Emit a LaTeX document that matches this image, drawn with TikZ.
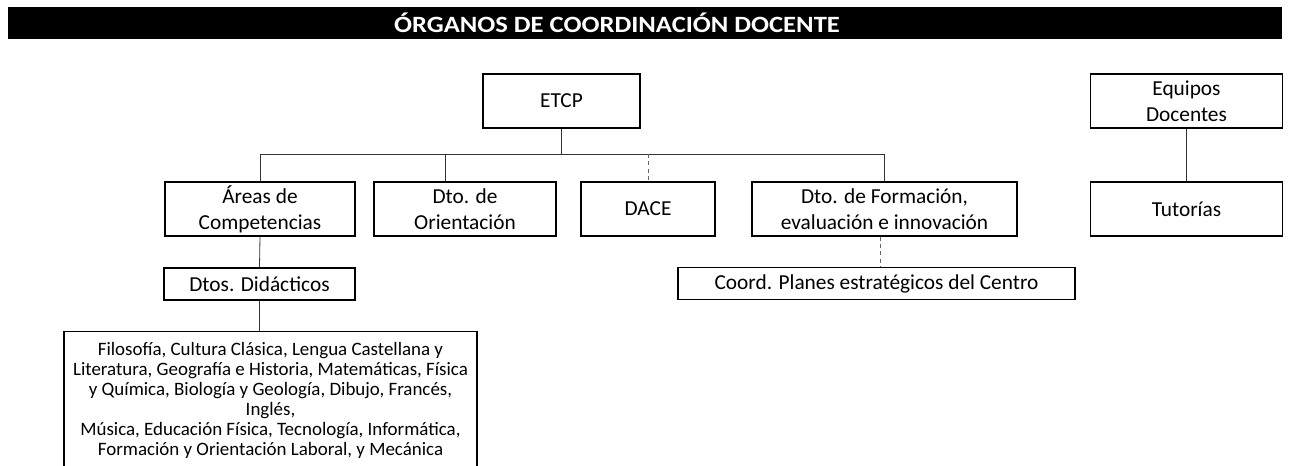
\documentclass[tikz,border=0pt]{standalone}
\usepackage{fontspec}
\setmainfont{Carlito}
\newfontfamily\titlefont{Carlito}[FakeStretch=1.14]
\usepackage{tikz}

\begin{document}
\begin{tikzpicture}[
    x=0.75pt, y=-0.75pt,
    box/.style={rectangle, draw, line width=0.9pt, inner sep=0pt, minimum height=54*0.75pt, align=center, font=\fontsize{16pt}{19.3pt}\selectfont},
    thinbox/.style={box, minimum height=32*0.75pt},
    link/.style={line width=0.6pt, black!80},
    dlink/.style={link, dashed, dash pattern=on 3pt off 2.5pt, black!60}
]
    \clip (0,0) rectangle (1290,466);

    \fill (8,7) rectangle (1282,39);
    \node[text=white, inner sep=0pt, font=\titlefont\bfseries\fontsize{17.5pt}{21pt}\selectfont] (title) at (617,22.5) {ÓRGANOS DE COORDINACIÓN DOCENTE};

    \node[box, minimum width=157*0.75pt] (etcp) at (561.5,101) {ETCP};
    \node[box, minimum width=192*0.75pt] (equipos) at (1186.5,101) {Equipos\\Docentes};

    \node[box, minimum width=190*0.75pt] (areas) at (260,209) {Áreas de\\Competencias};
    \node[box, minimum width=182*0.75pt] (orient) at (465,209) {Dto. de\\Orientación};
    \node[box, minimum width=134*0.75pt] (dace) at (648,209) {DACE};
    \node[box, minimum width=265*0.75pt] (formacion) at (884.5,209) {Dto. de Formación,\\evaluación e innovación};
    \node[box, minimum width=192*0.75pt] (tutorias) at (1186.5,209) {Tutorías};

    \node[thinbox, minimum width=191*0.75pt] (didacticos) at (259.5,284) {Dtos. Didácticos};
    \node[thinbox, minimum width=397*0.75pt] (planes) at (876.5,283.5) {Coord. Planes estratégicos del Centro};

    \node[box, anchor=north, minimum width=413*0.75pt, minimum height=150*0.75pt, inner xsep=4pt, inner ysep=8pt,
          font=\fontsize{14.2pt}{15pt}\selectfont] (materias) at (270.5,331)
        {Filosofía, Cultura Clásica, Lengua Castellana y\\
         Literatura, Geografía e Historia, Matemáticas, Física\\
         y Química, Biología y Geología, Dibujo, Francés,\\
         Inglés,\\
         Música, Educación Física, Tecnología, Informática,\\
         Formación y Orientación Laboral, y Mecánica\\ \\};

    \coordinate (bus) at (561.5,154);
    \coordinate (busorient) at (445,154);

    \draw[link] (etcp.south) -- (etcp.south |- bus);
    \draw[link] (areas.north) -- (areas.north |- bus) -- (formacion.north |- bus) -- (formacion.north);
    \draw[link] (busorient) -- (busorient |- orient.north);
    \draw[dlink] (dace.north |- bus) -- (dace.north);
    \draw[link] (equipos.south) -- (tutorias.north);
    \draw[link] (areas.south) -- (didacticos.north);
    \draw[link] (didacticos.south) -- (didacticos.south |- materias.north);
    \draw[dlink] ([xshift=-4*0.75pt]formacion.south) -- ([xshift=-4*0.75pt]formacion.south |- planes.north);
\end{tikzpicture}
\end{document}
